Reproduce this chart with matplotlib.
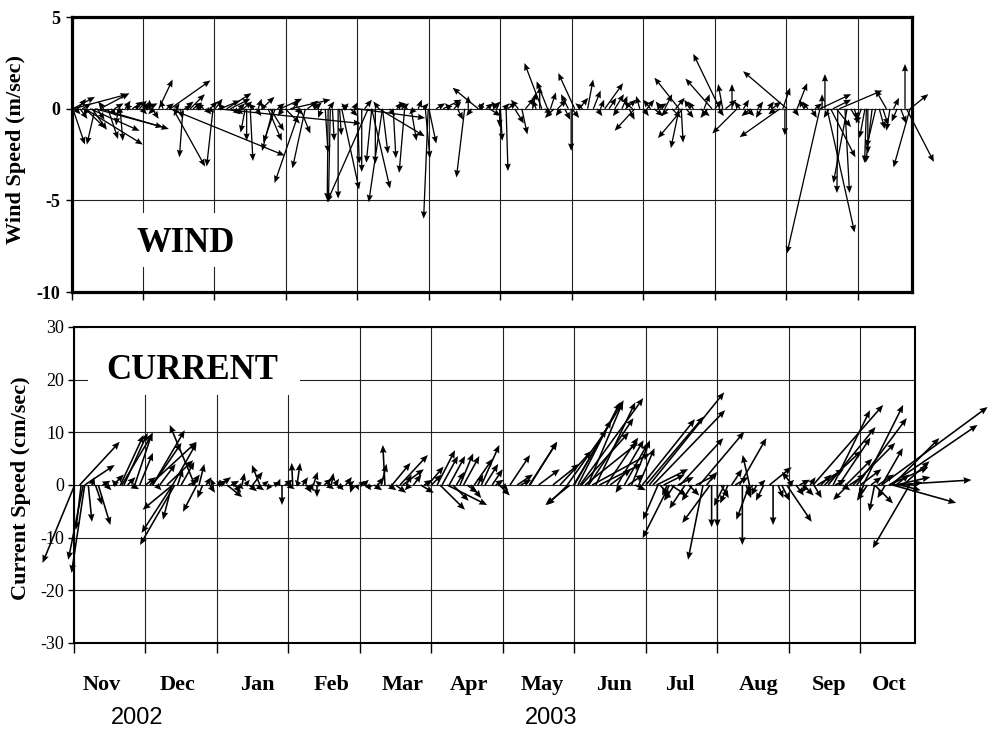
import numpy as np
import matplotlib
matplotlib.use('Agg')
import matplotlib.pyplot as plt
from matplotlib.patches import Rectangle
from matplotlib.transforms import blended_transform_factory

# ---------------- data ----------------
# time axis in months from the first grid line (mid-Oct 2002)
wind_t = [0.02, 0.33, 0.09, 0.02, 0.12, 0.19, 0.29, 0.51, 0.68, 0.02, 0.40, 0.26, 0.19, 0.75, 0.65, 0.33, 0.40, 0.90, 0.95, 0.55, 0.82,
          1.10, 1.10, 1.13, 1.22, 1.28, 1.38, 1.56, 1.42, 1.98, 1.38, 1.52, 1.46, 1.66, 1.80, 1.94, 1.05, 1.70, 1.60, 1.88,
          2.01, 2.08, 2.17, 2.22, 2.05, 2.43, 2.45, 2.50, 2.61, 2.66, 2.82, 2.85, 2.75, 2.78, 2.92, 2.35, 2.55, 2.30,
          3.06, 2.99, 3.20, 3.27, 3.20, 3.10, 3.30, 3.45, 3.62, 3.59, 3.73, 4.15, 3.78, 3.55, 3.65, 3.75, 3.60, 3.85, 3.95, 3.90,
          4.35, 4.20, 4.99, 4.66, 4.06, 4.00, 4.20, 4.25, 4.35, 4.50, 4.75, 5.00, 4.95, 4.00, 4.30, 4.10, 4.30, 4.55, 4.70, 4.85,
          5.50, 5.69, 5.55, 5.70, 5.75, 5.90, 5.99, 6.00, 6.08, 5.20, 5.30, 5.40, 5.85,
          6.10, 6.20, 6.30, 6.58, 6.66, 6.55, 6.45, 6.70, 7.04, 6.95, 7.22, 6.75, 6.99, 6.90, 7.00, 7.30, 7.40,
          7.46, 7.88, 7.70, 7.80, 7.60, 7.95, 8.05, 8.15, 8.50, 8.55, 8.50, 8.53, 8.30, 8.40, 8.25, 8.65,
          9.07, 8.96, 8.85, 9.31, 9.11, 9.24, 9.00, 9.40, 9.50, 9.60,
          9.91, 10.01, 9.75, 9.95, 9.98, 10.47, 10.15, 10.25, 10.35, 10.54, 10.50,
          10.85, 10.72, 10.82, 10.57, 10.62, 10.47, 10.74, 10.65, 10.70, 10.90, 11.10, 11.12, 11.20, 11.14, 11.25,
          11.40, 11.66, 11.50, 11.73, 11.68, 11.73, 11.55, 11.30]
wind_u = [0.65, -0.45, 0.45, 1.2, 0.4, 1.1, 0.8, 0.55, 0.15, 3.0, 1.6, 2.7, 3.15, 0.3, -0.1, 3.7, 3.75, 0.2, 0.4, 0.3, -0.3,
          -0.4, -0.05, 0.35, 0.76, -0.15, 2.2, -0.2, 1.75, -0.35, 6.25, 0.15, 0.2, 0.8, -0.2, 0.4, 0.6, 0.5, 0.3, 0.3,
          0.4, 1.1, 1.35, 1.1, 7.8, -0.25, 0.0, 0.15, 0.2, 0.7, -0.6, -0.65, 0.75, 0.75, 1.2, 0.3, -0.3, 0.4,
          2.2, 0.8, -1.4, -0.7, 0.55, 0.3, 0.6, -0.4, -0.1, -0.05, 0.0, -2.25, 0.95, 0.15, 0.1, 0.1, 0.3, -0.3, 0.2, 0.4,
          -0.75, 1.0, -0.25, -0.3, 0.0, 0.1, -0.3, 0.0, 0.3, 0.15, 0.3, 0.4, 0.25, 3.7, 2.5, 0.4, -0.3, 0.3, -0.5, 0.2,
          -0.45, -1.4, 0.0, 0.3, -0.2, 0.4, 0.0, 0.1, 0.1, 1.0, -0.3, 0.3, 0.6,
          0.5, 0.5, 0.3, -0.95, -0.6, 0.0, 0.2, 0.3, -0.9, -0.4, 0.3, -0.5, 0.0, 0.3, 0.4, 0.4, 0.2,
          1.0, -1.1, 0.3, 0.3, 0.5, -0.2, 0.4, 0.5, -1.35, -1.35, -0.45, 0.1, 0.4, 0.5, -0.3, -0.3,
          -1.45, -1.45, 0.3, -1.35, -0.25, 0.0, 0.4, 0.3, -0.5, 0.3,
          -2.2, -2.4, 0.3, 0.4, 0.0, -1.8, 0.55, -0.3, 0.3, 0.0, 0.0,
          -0.75, -0.05, 0.25, 1.5, 1.35, 1.7, 2.35, 1.0, 0.8, 0.5, -0.3, -0.1, -0.35, 0.0, -0.5,
          -0.6, 0.0, 0.3, 1.0, 1.5, -0.9, -0.3, 0.3]
wind_v = [-1.95, -1.95, 0.55, 0.65, -0.55, -1.05, -1.15, -1.65, -1.75, 0.8, 0.85, -1.2, -1.95, 0.45, -0.9, -1.0, -1.1, 0.25, 0.45, -0.4, 0.3,
          0.25, 0.5, -0.55, 1.6, 0.5, 1.55, -2.65, -3.15, -3.15, -2.55, -0.55, 0.3, 0.8, 0.2, 0.4, 0.3, 0.35, 0.2, -0.3,
          0.55, 0.45, 0.85, 0.55, -0.8, -1.3, -1.75, -2.85, 0.55, 0.65, -2.3, -1.85, -1.75, -1.2, 0.55, 0.3, 0.3, -0.3,
          0.5, -0.8, -4.05, -3.25, -1.35, 0.5, 0.45, 0.3, -5.1, -5.0, -4.9, -5.1, -4.4, -2.4, -1.75, -1.45, 0.4, 0.3, 0.35, -0.4,
          -5.1, -4.35, -6.0, -3.5, -3.45, -3.0, -2.95, -3.0, -2.45, -2.7, -1.75, -1.9, -2.7, -0.5, -1.5, 0.5, 0.4, 0.35, 0.4, 0.5,
          -3.75, 1.15, 0.7, 0.35, 0.3, 0.4, -1.0, -1.75, -3.4, 0.5, 0.3, -0.6, -0.4,
          0.35, -0.8, -1.4, 2.5, 1.5, 1.25, 0.9, 0.9, 1.95, 0.8, 1.6, -0.5, -2.3, -0.6, -0.5, 1.0, 0.5,
          1.4, -1.2, 0.7, -0.6, 0.8, 0.7, 0.5, -0.4, 1.7, -1.6, -2.15, -1.85, 0.8, -0.5, 0.4, 0.5,
          3.0, 1.65, 0.8, -1.35, 1.35, 1.35, 0.5, 0.5, -0.4, 0.4,
          -1.55, 2.05, 0.4, 1.15, -1.45, -7.9, 1.4, 0.5, -0.5, 1.9, 0.8,
          -4.05, -4.6, -4.6, -6.75, -2.65, 0.8, 1.0, 0.5, -1.0, -0.8, -1.6, -2.95, -2.95, -2.45, -2.1,
          1.05, 2.45, 0.6, 0.8, -2.9, -3.2, -0.7, -1.1]

# short wind vectors crowding the zero line
wind_small_t = [0.05, 0.15, 0.22, 0.36, 0.45, 0.60, 0.72, 0.85, 0.98,
                1.02, 1.15, 1.33, 1.48, 1.58, 1.75, 1.85, 1.92,
                2.12, 2.26, 2.40, 2.58, 2.70, 2.88, 2.96,
                3.15, 3.40, 3.50, 3.80, 4.45, 4.62, 4.80, 4.92,
                5.10, 5.35, 5.60, 5.80, 5.95,
                6.05, 6.25, 6.35, 6.50, 6.62, 6.80, 6.85, 7.10, 7.15, 7.35,
                7.52, 7.65, 7.75, 7.85, 8.00, 8.10, 8.20, 8.35, 8.45, 8.60, 8.70, 8.80, 8.90,
                9.05, 9.15, 9.35, 9.45, 9.65, 9.80, 9.85,
                10.10, 10.30, 10.40, 10.60, 10.95, 11.05, 11.35, 11.45, 11.60]
wind_small_u = [0.3, 0.5, -0.2, 0.4, -0.3, 0.5, -0.4, 0.6, 0.3,
                0.2, -0.3, 0.4, -0.2, 0.5, 0.3, -0.4, 0.3,
                -0.3, 0.4, 0.5, 0.3, -0.2, 0.4, -0.3,
                0.3, 0.4, -0.2, 0.3, 0.3, 0.4, -0.3, 0.3,
                0.5, 0.4, -0.3, 0.4, -0.3,
                0.3, -0.4, 0.5, -0.2, 0.4, 0.5, -0.3, 0.5, -0.4, 0.3,
                0.4, -0.3, 0.6, -0.5, 0.3, -0.4, 0.5, -0.4, 0.5, 0.4, -0.3, 0.5, -0.4,
                0.3, 0.6, -0.3, 0.4, -0.3, 0.5, -0.4,
                0.3, -0.3, 0.4, -0.3, 0.2, -0.3, 0.3, -0.2, 0.3]
wind_small_v = [-0.3, 0.3, -0.4, -0.6, 0.4, 0.3, -0.3, 0.4, -0.3,
                0.35, -0.3, 0.3, -0.4, 0.4, 0.3, 0.3, -0.2,
                0.3, -0.3, 0.4, -0.4, 0.35, 0.3, -0.4,
                -0.3, 0.35, -0.5, 0.3, -0.4, 0.3, -0.3, 0.3,
                0.3, 0.4, -0.4, 0.3, 0.4,
                0.3, 0.5, 0.6, 0.5, -0.3, 0.5, -0.4, 0.6, 0.3, -0.4,
                0.6, -0.4, 0.5, 0.4, -0.4, 0.5, 0.3, -0.4, 0.6, -0.5, 0.4, -0.4, -0.5,
                -0.4, 0.5, 0.4, -0.4, -0.5, 0.4, -0.3,
                -0.4, 0.4, 0.3, -0.5, -0.6, -0.8, -0.9, -1.2, -0.8]

cur_t = [0.01, 0.13, 0.15, 0.10, 0.20, 0.34, 0.30, 0.25, 0.08, 0.15, 0.65, 0.67, 0.92, 0.85, 0.70, 0.55, 0.75, 0.45,
         1.38, 1.38, 1.41, 1.37, 1.72, 1.69, 1.10, 1.10, 1.06, 1.30, 1.38, 1.50, 1.20, 1.45, 1.75, 1.80, 1.85, 1.95, 1.60,
         2.14, 2.35, 2.60, 2.50, 2.05, 2.20, 2.30, 2.45, 2.70, 2.80, 2.91, 2.95,
         3.06, 3.12, 3.35, 3.40, 3.60, 3.25, 3.50, 3.70, 3.80, 3.90, 4.00, 4.10,
         4.35, 4.30, 4.56, 4.45, 4.60, 4.50, 4.20, 4.75, 4.85, 5.08, 4.95,
         5.15, 5.25, 5.40, 5.45, 5.70, 5.60, 5.12, 5.22, 5.30, 5.50, 5.85, 6.10, 5.95,
         6.37, 6.38, 6.94, 6.91, 6.20, 6.50, 6.70, 6.80, 7.05, 7.00, 6.90, 7.19, 7.30, 6.99, 7.08, 7.20, 7.10, 7.15, 7.25, 7.35, 7.45,
         7.60, 7.70, 7.80, 7.90, 8.05, 8.10, 8.00, 7.95, 8.17, 8.33, 8.15, 8.25, 8.35, 8.48, 8.40, 8.55,
         8.75, 8.80, 8.90, 8.92, 9.00, 9.31, 9.45, 9.45, 9.35, 9.10, 9.20, 8.70, 9.55,
         9.78, 9.97, 9.73, 9.90, 10.05, 10.10, 10.20, 10.30, 10.40,
         10.83, 10.34, 10.62, 10.55, 10.50, 10.70, 10.80, 10.95, 11.04, 10.90, 11.00, 11.10, 11.20,
         11.30, 11.41, 11.45, 11.45, 11.45, 11.40, 11.50, 11.69, 11.30, 11.55, 11.60, 11.20]
cur_u = [-6.1, -2.85, -2.5, -1.0, 0.7, 2.3, 1.3, 0.5, 7.6, 5.7, 4.4, 5.9, 2.5, 3.3, 4.5, 2.0, 1.5, 1.0,
         -5.7, -5.9, -6.6, -1.7, -2.65, -4.75, 6.1, 5.5, 8.9, 5.0, 4.55, 2.5, 3.0, 1.0, 1.0, -1.0, 1.0, -0.5, 2.0,
         2.9, 0.5, -1.5, 1.9, 2.0, 1.5, 1.0, 1.5, 0.5, 1.2, 0.0, 1.5,
         -0.2, 0.6, 0.8, 0.0, 0.4, 1.0, 1.5, 1.0, 1.2, -0.5, 1.0, 0.8,
         -0.4, 1.0, 5.3, 3.5, 4.0, 2.0, 1.5, 1.5, 2.5, 3.4, 3.0,
         3.0, 3.0, 2.5, 3.0, 3.4, 3.5, 4.75, 7.6, 3.0, 2.0, 2.0, 3.8, 2.0,
         5.3, 5.1, -4.7, -4.0, 3.0, 4.0, 5.0, 6.0, 8.0, 7.0, 7.5, 6.6, 7.5, 9.5, 12.0, 8.5, 9.0, 10.0, 11.0, 8.0, 6.0,
         5.0, 4.5, 3.5, 3.0, 14.2, 13.7, 11.0, 10.0, -2.85, -5.1, 6.0, 4.0, 3.0, 8.2, -2.0, -3.0,
         8.5, -2.85, -5.3, 0.0, 0.0, 5.1, -1.3, -2.5, 0.0, -2.0, 2.0, 4.0, -1.0,
         0.0, 4.75, 4.2, 1.5, -2.0, 1.5, 2.0, 1.0, 5.0,
         -2.85, 13.3, 7.0, 9.0, 7.0, 6.0, 5.0, 9.5, 7.6, 8.0, 4.0, -2.0, -1.0,
         20.1, 16.7, 15.0, 12.1, 8.9, 7.5, 6.5, -7.0, 4.0, 4.0, 5.0, 3.5]
cur_v = [-14.8, -14.2, -16.7, -8.5, -7.0, -7.6, -3.8, 1.5, 8.2, 3.8, 9.5, 9.9, 6.1, 9.9, 9.9, 2.0, 1.5, -1.0,
         -4.7, -9.1, -11.4, -6.6, -5.1, 11.4, 10.4, 8.0, 8.2, 4.7, 8.0, 4.4, 4.0, 3.0, 4.0, -2.5, 1.5, 1.2, 1.0,
         -2.3, 2.3, 3.8, 2.5, 1.5, 0.8, -0.8, -1.2, -0.5, 0.6, -3.8, 1.0,
         4.2, 4.2, 2.5, -2.3, 2.3, -1.5, 1.2, -1.0, 1.5, -1.5, 0.8, -1.0,
         7.6, 4.0, 5.7, 4.2, 3.0, -1.5, -1.0, 2.0, -1.5, 6.6, 3.5,
         5.5, 5.5, 6.0, 5.5, 7.6, 5.0, -4.7, -3.8, -3.0, -1.5, 3.0, 5.7, -2.0,
         8.2, 8.2, -3.8, -3.8, 2.0, 3.0, 4.0, 6.5, 15.7, 12.3, 10.5, 15.7, 15.7, 16.1, 16.5, 12.7, 10.0, 8.0, 6.0, 4.0, 9.0,
         8.5, 8.0, 8.5, 7.0, 17.6, 14.2, 13.0, 12.5, -6.6, -10.1, 3.0, 2.0, -2.0, 8.9, -3.0, -4.5,
         10.1, -14.2, -7.2, -8.0, -8.0, 8.9, 5.7, -6.6, -11.4, -4.0, 3.0, 2.0, -2.0,
         -7.6, -7.0, 3.4, -3.0, 2.5, -2.0, -2.0, 1.5, 3.0,
         -2.85, 15.2, 14.2, 11.0, 6.5, 9.0, 5.0, 12.7, 15.2, 8.0, 3.0, -3.0, -5.0,
         14.8, 11.4, 0.95, -3.4, 8.9, 3.4, 1.5, -12.0, 7.0, -1.0, 4.5, -3.5]

# short current vectors crowding the zero line
cur_small_t = [0.40, 0.60, 0.80, 1.00, 1.15,
               1.65, 1.90, 2.00, 2.10, 2.25, 2.40, 2.55, 2.65, 2.75, 2.85,
               3.00, 3.15, 3.20, 3.30, 3.45, 3.55, 3.65, 3.75, 3.85, 3.95, 4.05, 4.15, 4.25,
               4.40, 4.65, 4.70, 4.90, 5.00, 5.35, 5.55, 5.65, 5.75, 5.90, 6.00, 6.25,
               7.50, 7.65, 7.75, 7.85, 8.20, 8.30, 8.45, 8.60, 8.65, 8.85, 9.05, 9.15, 9.25, 9.40, 9.50, 9.60, 9.65,
               9.85, 10.00, 10.15, 10.25, 10.35, 10.45, 10.65, 10.75, 10.85, 11.05, 11.15, 11.25, 11.35, 11.50, 11.65]
cur_small_u = [1.5, -1.0, 1.5, 2.0, 1.0,
               1.5, 1.0, 1.5, -1.0, 1.2, 0.8, 1.5, 1.0, -0.8, 0.5,
               1.2, -0.8, 1.0, 0.8, -1.0, 1.2, 0.8, -0.8, 1.0, 0.5, 1.0, -0.5, 1.2,
               1.5, 1.0, -1.0, 1.5, 2.0, 1.5, 2.0, 1.0, 2.5, 1.5, 1.0, 2.0,
               4.0, -1.0, 3.0, 2.0, 2.0, -1.0, 3.0, 2.0, -2.0, 2.0, 1.5, -1.5, 2.5, 1.0, -1.5, 1.0, -1.5,
               1.0, 1.0, 2.0, -1.0, 1.5, 2.0, 2.0, 1.5, 3.0, -1.0, 2.0, 3.0, -1.5, 2.5, 3.0]
cur_small_v = [0.8, 1.0, -0.8, 1.5, -1.0,
               2.0, -1.5, 0.8, 1.0, -1.5, 1.0, -1.0, 0.8, -1.0, 1.2,
               -0.8, 1.0, 1.5, -1.2, 0.8, -0.8, 1.2, -0.8, 0.8, -1.0, 1.0, -0.8, 1.5,
               -1.0, 2.0, -1.0, 1.0, 2.0, 2.5, -2.5, 2.0, 4.0, 1.0, -1.0, 1.0,
               3.0, -1.5, 2.0, -1.0, -2.5, -2.0, 1.5, -2.0, -3.0, 2.5, -2.5, -3.5, 1.5, -2.5, -1.5, 1.0, -3.0,
               -2.5, 1.0, 1.0, -1.5, -2.5, 2.0, 1.0, -1.0, 2.0, -2.0, 1.5, 2.0, -2.5, 2.0, 0.5]

month_labels = ['Nov', 'Dec', 'Jan', 'Feb', 'Mar', 'Apr', 'May', 'Jun', 'Jul', 'Aug', 'Sep', 'Oct']
year_labels = ['2002', '2003']

# ---------------- layout ----------------
month_label_pos = [0.39, 1.45, 2.56, 3.60, 4.60, 5.53, 6.55, 7.55, 8.47, 9.58, 10.56, 11.40]
year_label_pos = [0.89, 6.67]
XMAX = 11.76

serif = ['Liberation Serif', 'DejaVu Serif']
sans = ['Liberation Sans', 'DejaVu Sans']

fig = plt.figure(figsize=(9.89, 7.31), dpi=100)
ax1 = fig.add_axes([0.0723, 0.6005, 0.850, 0.376])
ax2 = fig.add_axes([0.0748, 0.1204, 0.850, 0.4323])

qkw_w = dict(angles='uv', scale_units='y', scale=1, units='dots', width=1.3,
             headwidth=4.8, headlength=5.8, headaxislength=5.2, color='black', zorder=3)
qkw_c = dict(angles='uv', scale_units='y', scale=1, units='dots', width=1.6,
             headwidth=4.2, headlength=5.0, headaxislength=4.5, color='black', zorder=3)

wt = np.concatenate([wind_t, wind_small_t])
wu = np.concatenate([wind_u, wind_small_u])
wv = np.concatenate([wind_v, wind_small_v])
ct = np.concatenate([cur_t, cur_small_t])
cu = np.concatenate([cur_u, cur_small_u])
cv = np.concatenate([cur_v, cur_small_v])

# ---- wind panel ----
ax1.set_xlim(0, XMAX)
ax1.set_ylim(-10, 5)
ax1.set_yticks([-10, -5, 0, 5])
ax1.set_yticklabels(['-10', '-5', '0', '5'], fontfamily=serif, fontweight='bold', fontsize=13)
ax1.set_xticks(np.arange(0, 12))
ax1.tick_params(axis='x', direction='out', length=6, width=1, labelbottom=False)
ax1.tick_params(axis='y', direction='out', length=4, width=1, pad=4)
ax1.set_axisbelow(True)
ax1.grid(True, color='#222222', lw=0.8)
for s in ax1.spines.values():
    s.set_linewidth(2.3)
qw = ax1.quiver(wt, np.zeros(len(wt)), wu, wv, **qkw_w)
qw.set_clip_on(False)
ax1.add_patch(Rectangle((0.82, -8.64), 1.61, 2.94, facecolor='white', edgecolor='none', zorder=1))
ax1.text(1.60, -7.34, 'WIND', fontfamily=serif, fontweight='bold', fontsize=25,
         ha='center', va='center', zorder=4)
ax1.set_ylabel('Wind Speed (m/sec)', fontfamily=serif, fontweight='bold', fontsize=16)
ax1.yaxis.set_label_coords(-0.054, 0.52)

# ---- current panel ----
ax2.set_xlim(0, XMAX)
ax2.set_ylim(-30, 30)
ax2.set_yticks([-30, -20, -10, 0, 10, 20, 30])
ax2.set_yticklabels(['-30', '-20', '-10', '0', '10', '20', '30'], fontfamily=serif, fontsize=13)
ax2.set_xticks(np.arange(0, 12))
ax2.tick_params(axis='x', direction='out', length=7, width=1, labelbottom=False)
ax2.tick_params(axis='y', direction='out', length=4, width=1, pad=3)
ax2.set_axisbelow(True)
ax2.grid(True, color='#222222', lw=0.8)
for s in ax2.spines.values():
    s.set_linewidth(1.5)
qc = ax2.quiver(ct, np.zeros(len(ct)), cu, cv, **qkw_c)
qc.set_clip_on(False)
ax2.add_patch(Rectangle((0.2, 17.1), 2.96, 12.9, facecolor='white', edgecolor='none', zorder=1))
ax2.text(1.66, 21.8, 'CURRENT', fontfamily=serif, fontweight='bold', fontsize=25,
         ha='center', va='center', zorder=4)
ax2.set_ylabel('Current Speed (cm/sec)', fontfamily=serif, fontweight='bold', fontsize=16)
ax2.yaxis.set_label_coords(-0.051, 0.49)

tr = blended_transform_factory(ax2.transData, ax2.transAxes)
for x, lbl in zip(month_label_pos, month_labels):
    ax2.text(x, -0.133, lbl, transform=tr, ha='center', va='center',
             fontfamily=serif, fontweight='bold', fontsize=16)
for x, lbl in zip(year_label_pos, year_labels):
    ax2.text(x, -0.237, lbl, transform=tr, ha='center', va='center',
             fontfamily=sans, fontsize=17)

fig.savefig('out.png', dpi=100)
